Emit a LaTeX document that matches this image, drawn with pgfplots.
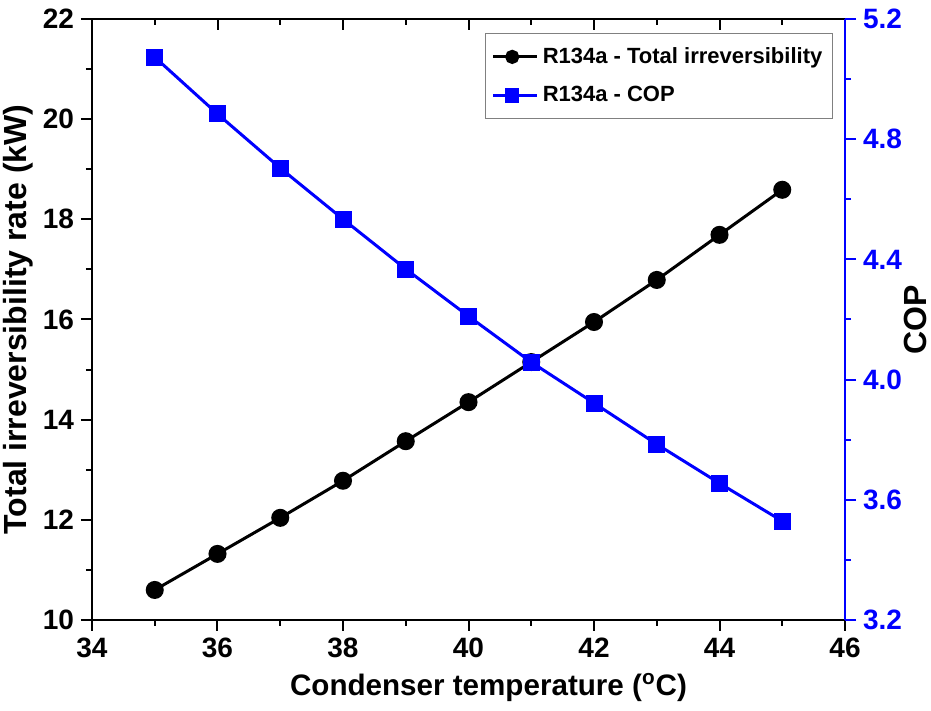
\documentclass[border=0pt]{standalone}
\usepackage{pgfplots}
\pgfplotsset{compat=1.18}
\usepackage{fontspec}
\setmainfont{Liberation Sans}
\begin{document}
\begin{tikzpicture}[x=0.5pt,y=0.5pt]
\useasboundingbox (-92,-91) rectangle (839,620);
\pgfplotsset{
  every axis/.append style={
    scale only axis, width=376.5pt, height=300.5pt,
    /pgf/number format/assume math mode=true,
    axis line style={line width=1pt},
    major tick length=5.5pt, minor tick length=3pt,
    every tick/.style={line width=1pt},
    ticklabel style={font=\bfseries\fontsize{14}{16}\selectfont},
    label style={font=\bfseries\fontsize{16}{19}\selectfont},
  }
}
% top ticks (inside)
\begin{axis}[
  xmin=34, xmax=46, ymin=10, ymax=22,
  axis x line*=top, axis y line=none,
  xtick={34,36,...,46}, minor x tick num=1,
  xticklabels={}, tick align=inside,
]
\end{axis}
% main left axis
\begin{axis}[
  xmin=34, xmax=46, ymin=10, ymax=22,
  axis x line*=bottom, axis y line*=left,
  xtick={34,36,...,46}, ytick={10,12,...,22},
  minor x tick num=1, minor y tick num=1,
  tick align=outside,
  xlabel={Condenser temperature (\textsuperscript{o}C)},
  ylabel={Total irreversibility rate (kW)},
  xlabel style={yshift=-1pt, xshift=10pt, font=\bfseries\fontsize{14.8}{17}\selectfont},
  ylabel style={yshift=-2pt},
  legend style={at={(0.984,0.977)}, anchor=north east, draw=gray, line width=0.6pt,
    font=\bfseries\fontsize{11}{13}\selectfont, row sep=6pt, inner xsep=3pt, inner ysep=5pt},
  legend cell align=left,
  legend image code/.code={
    \path (0pt,0pt) -- (22pt,0pt);
    \draw[#1,mark=none] (0pt,0pt) -- (4pt,0pt);
    \draw[#1,mark=none] (15pt,0pt) -- (19pt,0pt);
    \draw[#1,only marks,mark size=2.8pt] plot coordinates {(9.5pt,0pt)};
  },
]
\addplot[black, line width=1.5pt, mark=*, mark size=3.75pt] coordinates {
(35,10.60) (36,11.32) (37,12.04) (38,12.78) (39,13.57) (40,14.35)
(41,15.15) (42,15.95) (43,16.79) (44,17.69) (45,18.59)};
\addlegendentry{R134a - Total irreversibility}
\addlegendimage{blue, line width=1.5pt, mark=square*, mark size=3.5pt}
\addlegendentry{R134a - COP}
\end{axis}
% right axis
\begin{axis}[
  xmin=34, xmax=46, ymin=3.2, ymax=5.2,
  axis x line=none, axis y line*=right,
  ytick={3.2,3.6,...,5.2}, minor y tick num=1,
  tick align=outside,
  y axis line style={blue},
  every y tick/.style={blue, line width=1pt},
  yticklabel style={blue},
  yticklabel={\pgfmathprintnumber[fixed,fixed zerofill,precision=1]{\tick}},
  ylabel={COP},
  ylabel style={at={(rel axis cs:1,0.5)}, anchor=center, yshift=-35pt},
]
\addplot[blue, line width=1.5pt, mark=square*, mark size=3.5pt] coordinates {
(35,5.073) (36,4.884) (37,4.704) (38,4.534) (39,4.368) (40,4.211)
(41,4.058) (42,3.922) (43,3.785) (44,3.655) (45,3.529)};
\end{axis}
\end{tikzpicture}
\end{document}
